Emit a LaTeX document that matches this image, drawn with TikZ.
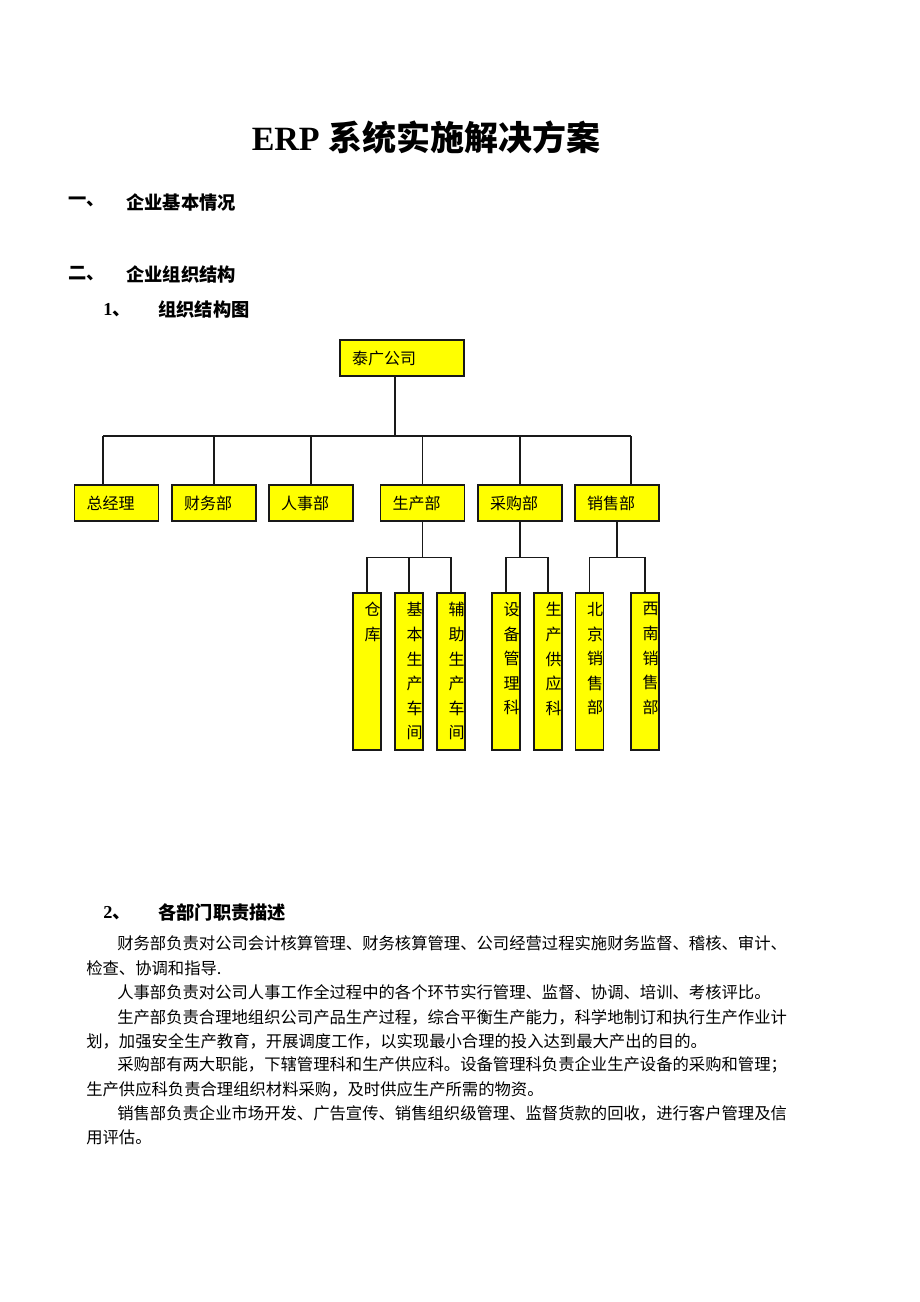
\documentclass[tikz,border=0pt]{standalone}
\usepackage{fontspec}
\setmainfont{Liberation Serif}
\newfontfamily\cjk{Noto Sans CJK SC}
\usetikzlibrary{calc}
\definecolor{boxyellow}{RGB}{255,255,0}
\definecolor{edge}{RGB}{25,25,25}
\begin{document}
\begin{tikzpicture}[x=0.75pt,y=-0.75pt,
 hbox/.style={draw=edge, line width=1.1pt, fill=boxyellow, minimum height=27pt, inner xsep=9pt, inner ysep=0pt, align=left, font=\cjk\fontsize{12}{14}\selectfont},
 vbox/.style={draw=edge, line width=1.1pt, fill=boxyellow, minimum width=21pt, minimum height=117.75pt, inner sep=0pt},
 vtext/.style={anchor=north west, inner sep=0pt, align=left, font=\cjk\fontsize{12}{18.4}\selectfont},
 conn/.style={draw=edge, line width=1pt},
 body/.style={anchor=west, inner sep=0pt, font=\cjk\fontsize{12.25}{14}\selectfont},
 head/.style={anchor=west, inner sep=0pt, font=\cjk\bfseries\fontsize{13.7}{16}\selectfont},
 num/.style={anchor=west, inner sep=0pt, font=\bfseries\fontsize{13.7}{16}\selectfont},
]
\fill[white] (0,0) rectangle (920,1302);
\useasboundingbox (0,0) rectangle (920,1302);

% title and headings
\node (title) at (426,137) {\fontsize{25.5}{30}\selectfont\bfseries ERP {\cjk 系统实施解决方案}};
\node[head] (h1n) at (68,202) {一、};
\node[head] (h1) at (126,202) {企业基本情况};
\node[head] (h2n) at (68,274) {二、};
\node[head] (h2) at (126,274) {企业组织结构};
\node[num] (h21n) at (103,310) {1{\cjk 、}};
\node[head] (h21) at (158,310) {组织结构图};
\node[num] (h22n) at (103,913) {2{\cjk 、}};
\node[head] (h22) at (158,913) {各部门职责描述};

% org chart boxes
\node[hbox, text width=75pt] (top) at (402,358) {泰广公司};
\node[hbox, text width=45pt] (gm) at (116.5,503) {总经理};
\node[hbox, text width=45pt] (fin) at (214,503) {财务部};
\node[hbox, text width=45pt] (hr) at (311,503) {人事部};
\node[hbox, text width=45pt] (prod) at (422.5,503) {生产部};
\node[hbox, text width=45pt] (pur) at (520,503) {采购部};
\node[hbox, text width=45pt] (sal) at (617,503) {销售部};

\node[vbox] (ck) at (367,671.5) {};
\node[vbox] (jb) at (409,671.5) {};
\node[vbox] (fz) at (451,671.5) {};
\node[vbox] (sb) at (506,671.5) {};
\node[vbox] (gy) at (548,671.5) {};
\node[vbox] (bj) at (589.5,671.5) {};
\node[vbox] (xn) at (645,671.5) {};

\node[vtext] (tck) at ($(ck.north west)+(12,10)$) {仓\\库};
\node[vtext] (tjb) at ($(jb.north west)+(12,10)$) {基\\本\\生\\产\\车\\间};
\node[vtext] (tfz) at ($(fz.north west)+(12,10)$) {辅\\助\\生\\产\\车\\间};
\node[vtext] (tsb) at ($(sb.north west)+(12,10)$) {设\\备\\管\\理\\科};
\node[vtext] (tgy) at ($(gy.north west)+(12,10)$) {生\\产\\供\\应\\科};
\node[vtext] (tbj) at ($(bj.north west)+(12,10)$) {北\\京\\销\\售\\部};
\node[vtext] (txn) at ($(xn.north west)+(12,10)$) {西\\南\\销\\售\\部};

% connectors level 1
\coordinate (bus) at (395,436);
\coordinate (busL) at (103,436);
\coordinate (busR) at (631,436);
\draw[conn] (top.south -| bus) -- (bus);
\draw[conn] (busL) -- (busR);
\draw[conn] (busL) -- (busL |- gm.north);
\draw[conn] (bus) -| (fin.north);
\draw[conn] (bus) -| (hr.north);
\draw[conn] (bus) -| (prod.north);
\draw[conn] (bus) -| (pur.north);
\draw[conn] (busR) -- (busR |- sal.north);

% connectors level 2
\coordinate (pj) at ($(prod.south)+(0,36)$);
\coordinate (uj) at ($(pur.south)+(0,36)$);
\coordinate (sj) at ($(sal.south)+(0,36)$);
\draw[conn] (prod.south) -- (pj);
\draw[conn] (pj) -| (ck.north);
\draw[conn] (pj) -| (jb.north);
\draw[conn] (pj) -| (fz.north);
\draw[conn] (pur.south) -- (uj);
\draw[conn] (uj) -| (sb.north);
\draw[conn] (uj) -| (gy.north);
\draw[conn] (sal.south) -- (sj);
\draw[conn] (sj) -| (bj.north);
\draw[conn] (sj) -| (xn.north);

% body text
\node[body] (l1) at (117,943) {财务部负责对公司会计核算管理、财务核算管理、公司经营过程实施财务监督、稽核、审计、};
\node[body] (l2) at (86,968) {检查、协调和指导.};
\node[body] (l3) at (117,992) {人事部负责对公司人事工作全过程中的各个环节实行管理、监督、协调、培训、考核评比。};
\node[body] (l4) at (117,1017) {生产部负责合理地组织公司产品生产过程，综合平衡生产能力，科学地制订和执行生产作业计};
\node[body] (l5) at (86,1041) {划，加强安全生产教育，开展调度工作，以实现最小合理的投入达到最大产出的目的。};
\node[body] (l6) at (117,1065) {采购部有两大职能，下辖管理科和生产供应科。设备管理科负责企业生产设备的采购和管理；};
\node[body] (l7) at (86,1089) {生产供应科负责合理组织材料采购，及时供应生产所需的物资。};
\node[body] (l8) at (117,1113) {销售部负责企业市场开发、广告宣传、销售组织级管理、监督货款的回收，进行客户管理及信};
\node[body] (l9) at (86,1137) {用评估。};
\end{tikzpicture}
\end{document}
